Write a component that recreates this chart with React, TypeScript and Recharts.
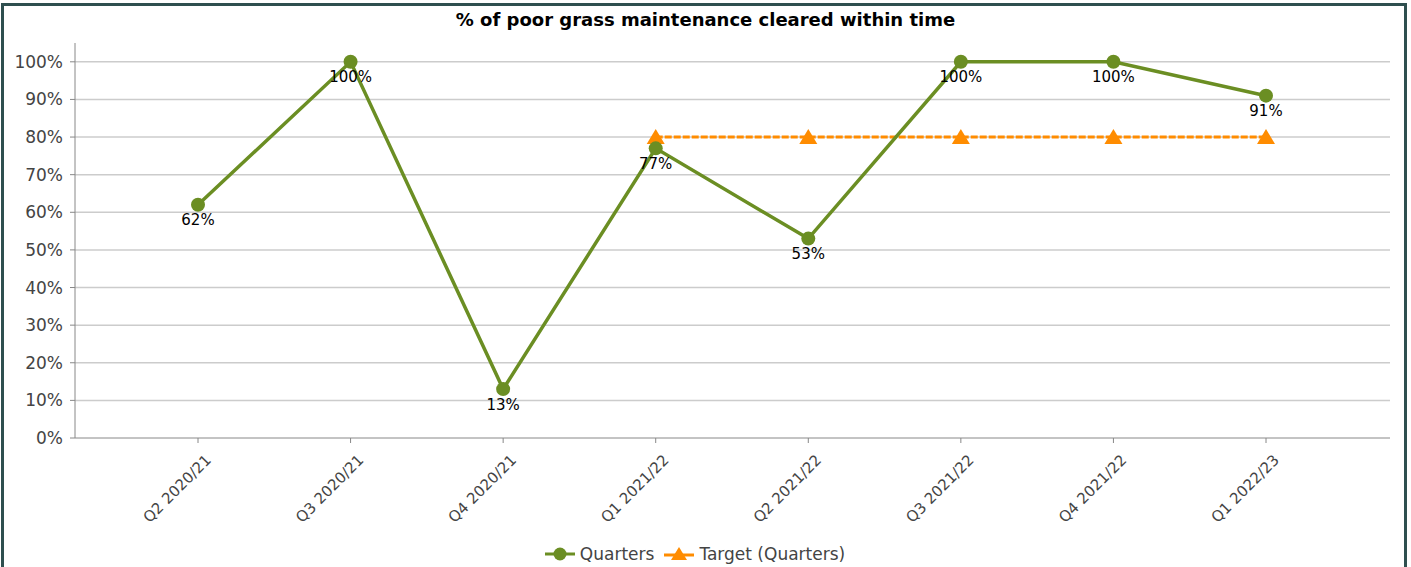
import { CartesianGrid, LabelList, Legend, Line, LineChart, XAxis, YAxis } from "recharts";

const quarters = ["Q2 2020/21", "Q3 2020/21", "Q4 2020/21", "Q1 2021/22", "Q2 2021/22", "Q3 2021/22", "Q4 2021/22", "Q1 2022/23"];
const actual = [62, 100, 13, 77, 53, 100, 100, 91];
const target = [null, null, null, 80, 80, 80, 80, 80];
const yTicks = [0, 10, 20, 30, 40, 50, 60, 70, 80, 90, 100];

const GREEN = "#6b8e23";
const ORANGE = "#ff8c00";
const FONT = "'DejaVu Sans', Verdana, sans-serif";

const rows = quarters.map((q, i) => ({ q, actual: actual[i], target: target[i] }));

function Triangle({ cx, cy }: { cx?: number; cy?: number }) {
  if (cx == null || cy == null) return null;
  return <path d={`M${cx},${cy - 8} L${cx + 9},${cy + 7} L${cx - 9},${cy + 7} Z`} fill={ORANGE} />;
}

function QuarterTick({ x, y, payload }: { x?: number; y?: number; payload?: { value: string } }) {
  return (
    <g transform={`translate(${(x ?? 0) + 14},${(y ?? 0) + 16}) rotate(-45)`}>
      <text x={0} y={0} textAnchor="end" fill="#444" fontSize={15} fontFamily={FONT}>
        {payload?.value}
      </text>
    </g>
  );
}

function LegendRow() {
  return (
    <div style={{ display: "flex", justifyContent: "center", gap: 10, fontFamily: FONT, fontSize: 17, color: "#444" }}>
      <span style={{ display: "flex", alignItems: "center", gap: 5 }}>
        <svg width={30} height={18}>
          <line x1={0} y1={9} x2={30} y2={9} stroke={GREEN} strokeWidth={3} />
          <circle cx={15} cy={9} r={6.5} fill={GREEN} />
        </svg>
        Quarters
      </span>
      <span style={{ display: "flex", alignItems: "center", gap: 5 }}>
        <svg width={30} height={18}>
          <line x1={0} y1={10} x2={30} y2={10} stroke={ORANGE} strokeWidth={3} />
          <path d="M15,2 L23,15 L7,15 Z" fill={ORANGE} />
        </svg>
        Target (Quarters)
      </span>
    </div>
  );
}

export default function App() {
  return (
    <div style={{ position: "fixed", left: 0, top: 0, width: 1411, height: 567, background: "#fff" }}>
      <div
        style={{
          position: "absolute",
          left: 1,
          top: 3,
          width: 1400,
          height: 580,
          border: "3px solid #2f4f4f",
        }}
      />
      <div
        style={{
          position: "absolute",
          left: 0,
          top: 9,
          width: 1411,
          textAlign: "center",
          fontFamily: FONT,
          fontWeight: "bold",
          fontSize: 18,
          color: "#000",
        }}
      >
        % of poor grass maintenance cleared within time
      </div>
      <div style={{ position: "absolute", left: 0, top: 0 }}>
        <LineChart width={1411} height={567} data={rows} margin={{ top: 43, right: 21, bottom: 0, left: 0 }}>
          <CartesianGrid vertical={false} horizontalValues={yTicks.slice(1)} stroke="#cccccc" strokeWidth={1.5} />
          <XAxis
            dataKey="q"
            padding={{ left: 123, right: 124 }}
            stroke="#888"
            tickLine={{ stroke: "#888" }}
            tickSize={5}
            height={103}
            interval={0}
            tick={<QuarterTick />}
          />
          <YAxis
            domain={[0, 105]}
            ticks={yTicks}
            width={75}
            stroke="#888"
            tickSize={5}
            tickMargin={7}
            tickFormatter={(v) => `${v}%`}
            tick={{ fill: "#444", fontSize: 17, fontFamily: FONT }}
          />
          <Legend verticalAlign="bottom" height={26} content={<LegendRow />} wrapperStyle={{ bottom: -3 }} />
          <Line
            dataKey="target"
            stroke={ORANGE}
            strokeWidth={3}
            strokeDasharray="7 2"
            dot={<Triangle />}
            activeDot={false}
            isAnimationActive={false}
          />
          <Line
            dataKey="actual"
            stroke={GREEN}
            strokeWidth={3.5}
            dot={{ r: 7, fill: GREEN, stroke: GREEN, strokeWidth: 0 }}
            activeDot={false}
            isAnimationActive={false}
          >
            <LabelList
              dataKey="actual"
              position="bottom"
              offset={10}
              formatter={(v: number) => `${v}%`}
              fill="#000"
              fontSize={15}
              fontFamily={FONT}
            />
          </Line>
        </LineChart>
      </div>
    </div>
  );
}
